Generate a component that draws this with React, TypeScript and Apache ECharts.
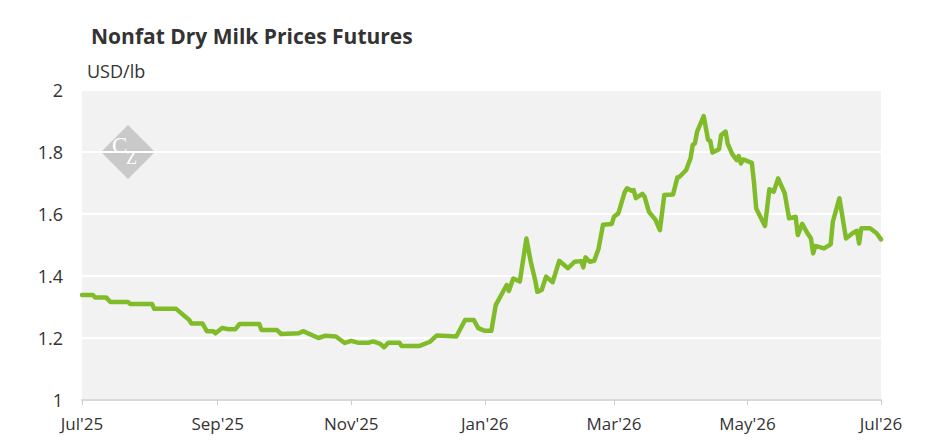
import React, { useEffect, useRef } from "react";
import * as echarts from "echarts";

const TITLE = "Nonfat Dry Milk Prices Futures";
const UNIT = "USD/lb";
const MONTHS = ["Jan", "Feb", "Mar", "Apr", "May", "Jun", "Jul", "Aug", "Sep", "Oct", "Nov", "Dec"];
const TICK_DATES = ["2025-07-01", "2025-09-01", "2025-11-01", "2026-01-01", "2026-03-01", "2026-05-01", "2026-07-01"];

const dates = [
  "2025-07-01", "2025-07-06", "2025-07-07", "2025-07-12", "2025-07-14", "2025-07-22", "2025-07-23", "2025-08-02",
  "2025-08-03", "2025-08-13", "2025-08-19", "2025-08-20", "2025-08-25", "2025-08-27", "2025-08-30", "2025-08-31",
  "2025-09-03", "2025-09-06", "2025-09-09", "2025-09-11", "2025-09-20", "2025-09-21", "2025-09-28", "2025-09-30",
  "2025-10-08", "2025-10-10", "2025-10-17", "2025-10-20", "2025-10-25", "2025-10-29", "2025-11-01", "2025-11-04",
  "2025-11-09", "2025-11-11", "2025-11-14", "2025-11-16", "2025-11-18", "2025-11-23", "2025-11-24", "2025-12-02",
  "2025-12-07", "2025-12-10", "2025-12-19", "2025-12-23", "2025-12-27", "2025-12-29", "2026-01-01", "2026-01-04",
  "2026-01-06", "2026-01-11", "2026-01-12", "2026-01-14", "2026-01-17", "2026-01-20", "2026-01-22", "2026-01-24",
  "2026-01-25", "2026-01-27", "2026-01-29", "2026-02-01", "2026-02-04", "2026-02-08", "2026-02-11", "2026-02-14",
  "2026-02-15", "2026-02-16", "2026-02-18", "2026-02-20", "2026-02-22", "2026-02-24", "2026-02-28", "2026-03-01",
  "2026-03-03", "2026-03-06", "2026-03-07", "2026-03-09", "2026-03-10", "2026-03-11", "2026-03-14", "2026-03-15",
  "2026-03-17", "2026-03-20", "2026-03-22", "2026-03-24", "2026-03-28", "2026-03-30", "2026-03-31", "2026-04-03",
  "2026-04-05", "2026-04-06", "2026-04-07", "2026-04-08", "2026-04-11", "2026-04-13", "2026-04-14", "2026-04-15",
  "2026-04-18", "2026-04-19", "2026-04-21", "2026-04-22", "2026-04-24", "2026-04-26", "2026-04-27", "2026-04-28",
  "2026-04-29", "2026-05-03", "2026-05-04", "2026-05-05", "2026-05-09", "2026-05-11", "2026-05-13", "2026-05-15",
  "2026-05-18", "2026-05-20", "2026-05-23", "2026-05-24", "2026-05-26", "2026-05-28", "2026-05-30", "2026-05-31",
  "2026-06-01", "2026-06-05", "2026-06-08", "2026-06-09", "2026-06-12", "2026-06-15", "2026-06-18", "2026-06-20",
  "2026-06-21", "2026-06-22", "2026-06-26", "2026-06-29", "2026-07-01",
];

const prices = [
  1.339, 1.339, 1.331, 1.331, 1.316, 1.316, 1.31, 1.31,
  1.294, 1.294, 1.258, 1.247, 1.247, 1.222, 1.222, 1.215,
  1.232, 1.228, 1.228, 1.245, 1.245, 1.226, 1.226, 1.213,
  1.215, 1.222, 1.2, 1.207, 1.205, 1.184, 1.191, 1.185,
  1.185, 1.189, 1.182, 1.17, 1.185, 1.185, 1.174, 1.174,
  1.188, 1.208, 1.205, 1.258, 1.258, 1.232, 1.223, 1.223,
  1.306, 1.371, 1.352, 1.392, 1.382, 1.521, 1.446, 1.387,
  1.349, 1.355, 1.398, 1.38, 1.449, 1.425, 1.446, 1.448,
  1.428, 1.46, 1.446, 1.449, 1.489, 1.565, 1.568, 1.591,
  1.602, 1.672, 1.683, 1.675, 1.677, 1.651, 1.665, 1.656,
  1.607, 1.581, 1.548, 1.661, 1.663, 1.718, 1.72, 1.742,
  1.78, 1.823, 1.828, 1.866, 1.916, 1.839, 1.836, 1.798,
  1.809, 1.855, 1.866, 1.826, 1.794, 1.774, 1.787, 1.763,
  1.776, 1.765, 1.699, 1.618, 1.561, 1.68, 1.672, 1.715,
  1.667, 1.586, 1.591, 1.532, 1.568, 1.543, 1.521, 1.473,
  1.497, 1.489, 1.502, 1.575, 1.651, 1.521, 1.538, 1.546,
  1.505, 1.554, 1.554, 1.538, 1.518,
];

function parseLocal(s: string): number {
  const [y, m, d] = s.split("-").map(Number);
  return new Date(y, m - 1, d).getTime();
}

export default function App() {
  const ref = useRef<HTMLDivElement>(null);

  useEffect(() => {
    if (!ref.current) return;
    const chart = echarts.init(ref.current, null, { renderer: "svg" });
    const data = dates.map((d, i) => [parseLocal(d), prices[i]]);
    const ticks = TICK_DATES.map(parseLocal);
    const font = "'Open Sans', 'Noto Sans', sans-serif";
    const serif = "'Liberation Serif', 'DejaVu Serif', serif";

    chart.setOption({
      animation: false,
      backgroundColor: "#ffffff",
      textStyle: { fontFamily: font },
      grid: {
        left: 82,
        right: 64,
        top: 90,
        bottom: 43,
        show: true,
        backgroundColor: "#f2f2f2",
        borderWidth: 0,
        containLabel: false,
      },
      graphic: [
        {
          type: "text",
          left: 91,
          top: 25,
          style: { text: TITLE, fontFamily: font, fontSize: 21, fontWeight: "bold", fill: "#333333" },
        },
        {
          type: "text",
          left: 87,
          top: 62,
          style: { text: UNIT, fontFamily: font, fontSize: 18, fill: "#333333" },
        },
        {
          type: "group",
          left: 101,
          top: 125,
          z: 1,
          children: [
            {
              type: "polygon",
              shape: { points: [[27, 0], [54, 27], [27, 54], [0, 27]] },
              style: { fill: "#c9c9c9" },
            },
            {
              type: "text",
              x: 11,
              y: 9,
              style: { text: "C", fontFamily: serif, fontSize: 23, fill: "#ffffff" },
            },
            {
              type: "text",
              x: 25,
              y: 24,
              style: { text: "Z", fontFamily: serif, fontSize: 18, fill: "#ffffff" },
            },
          ],
        },
      ],
      xAxis: {
        type: "value",
        min: ticks[0],
        max: ticks[ticks.length - 1],
        axisLine: { show: true, onZero: false, lineStyle: { color: "#d9d9d9", width: 2 } },
        axisTick: { show: true, customValues: ticks, length: 5, lineStyle: { color: "#cccccc", width: 1 } },
        axisLabel: {
          customValues: ticks,
          margin: 15,
          fontSize: 17,
          color: "#333333",
          fontFamily: font,
          showMinLabel: true,
          showMaxLabel: true,
          formatter: (v: number) => {
            const d = new Date(v);
            return MONTHS[d.getMonth()] + "'" + String(d.getFullYear()).slice(2);
          },
        },
        splitLine: { show: false },
      },
      yAxis: {
        type: "value",
        min: 1,
        max: 2,
        interval: 0.2,
        axisLine: { show: false },
        axisTick: { show: false },
        axisLabel: {
          fontSize: 18,
          color: "#333333",
          margin: 19,
          fontFamily: font,
          formatter: (v: number) => String(Number(v.toFixed(1))),
        },
        splitLine: { show: true, lineStyle: { color: "#ffffff", width: 2 } },
      },
      series: [
        {
          type: "line",
          data,
          showSymbol: false,
          symbol: "none",
          z: 5,
          lineStyle: { color: "#80bc29", width: 4.5, join: "round", cap: "round" },
        },
      ],
    });

    return () => chart.dispose();
  }, []);

  return <div ref={ref} style={{ width: 945, height: 443, position: "absolute", left: 0, top: 0 }} />;
}
